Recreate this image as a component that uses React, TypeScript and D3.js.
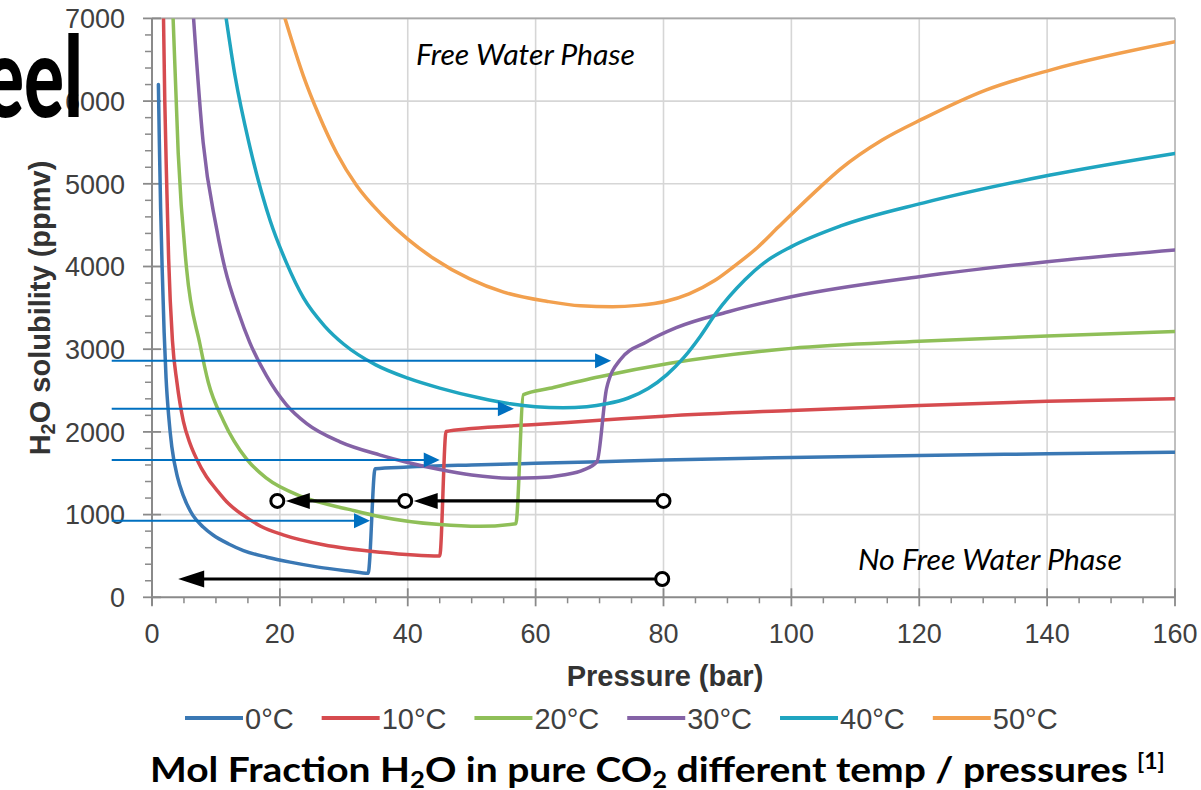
import React from 'react';
import * as d3 from 'd3';

// ---------- data ----------
const xTickValues = [0, 20, 40, 60, 80, 100, 120, 140, 160];
const yTickValues = [0, 1000, 2000, 3000, 4000, 5000, 6000, 7000];
const seriesNames = ['0°C', '10°C', '20°C', '30°C', '40°C', '50°C'];
const seriesColors = ['#3a78b4', '#d64b4f', '#8fbf58', '#8462a6', '#1fa5c0', '#f2a04e'];

// 0°C
const p0 = [1.0, 1.15, 1.35, 1.6, 1.9, 2.2, 2.6, 3.1, 4.0, 4.9, 6.4, 8, 9.6, 12, 14.3, 18, 21.6, 26, 31, 33.8, 34.9, 40, 50, 60, 70, 80, 100, 120, 140, 160];
const v0 = [6200, 5500, 4700, 3950, 3200, 2650, 2200, 1820, 1450, 1230, 990, 850, 750, 645, 565, 485, 425, 365, 315, 290, 1555, 1575, 1600, 1620, 1640, 1660, 1690, 1715, 1735, 1755];
// 10°C
const p10 = [1.8, 2.0, 2.3, 2.6, 3.2, 3.9, 4.9, 6.0, 7.0, 8.5, 10.1, 12, 14.3, 17, 20.5, 26.8, 35.7, 45.0, 46.0, 50, 60, 70, 80, 100, 120, 140, 160];
const v10 = [7000, 6000, 5000, 4100, 3100, 2600, 2130, 1850, 1670, 1460, 1300, 1130, 990, 860, 755, 635, 545, 500, 2005, 2040, 2090, 2140, 2190, 2260, 2320, 2370, 2400];
// 20°C
const p20 = [3.3, 4.1, 5.4, 7.5, 8.8, 11.2, 14.8, 17.9, 23.7, 31, 35.7, 45, 51.3, 56.9, 58.1, 62.2, 70, 81, 100, 120, 140, 160];
const v20 = [7000, 5370, 3980, 3060, 2600, 2130, 1670, 1440, 1210, 1060, 975, 880, 858, 890, 2450, 2527, 2667, 2830, 3010, 3095, 3160, 3215];
// 30°C
const p30 = [6.5, 8.0, 10, 11.4, 13.5, 15.3, 17.9, 21, 24.2, 29.4, 35.7, 40, 45, 50, 56.5, 60, 64.3, 67.5, 69.6, 71.1, 73.2, 77.4, 82, 90, 100, 120, 140, 160];
const v30 = [7000, 5500, 4500, 3980, 3450, 3080, 2680, 2330, 2100, 1880, 1720, 1630, 1545, 1480, 1440, 1445, 1480, 1540, 1640, 2527, 2869, 3090, 3260, 3450, 3634, 3876, 4058, 4200];
// 40°C
const p40 = [11.6, 13, 15.3, 18.5, 21, 23.7, 27, 30, 35, 40, 45, 51.3, 56, 60, 64.3, 68, 71.1, 74.5, 77.6, 80.5, 83.2, 85.8, 88.2, 92.7, 96, 100, 107.7, 120.7, 140.5, 160];
const v40 = [7000, 6300, 5450, 4550, 4050, 3620, 3280, 3060, 2810, 2650, 2530, 2410, 2340, 2305, 2293, 2305, 2340, 2410, 2525, 2690, 2900, 3160, 3434, 3836, 4060, 4240, 4490, 4770, 5106, 5368];
// 50°C
const p50 = [20.8, 23.7, 26, 28.9, 32, 36, 40, 44, 49.7, 55, 61.7, 67, 72, 76, 80.4, 84, 88, 91, 94.7, 98, 101.2, 104.5, 107.7, 114.2, 120.7, 130.4, 140.5, 160];
const v50 = [7000, 6300, 5850, 5370, 4980, 4620, 4330, 4100, 3850, 3690, 3580, 3525, 3514, 3530, 3580, 3670, 3830, 4000, 4230, 4480, 4720, 4960, 5180, 5529, 5791, 6133, 6375, 6717];

const seriesP = [p0, p10, p20, p30, p40, p50];
const seriesV = [v0, v10, v20, v30, v40, v50];

// annotation arrows (blue: pointing right to the step)
const blueArrowStartP = -6.3;
const blueArrowY = [2860, 2280, 1660, 925];
const blueArrowTipP = [71.8, 56.6, 45.0, 34.1];

// black arrows (pressure drop paths)
const blackUpperY = 1165;
const blackUpperCircles = [80, 39.6, 19.6];
const blackLowerY = 221;
const blackLowerStartP = 79.8;
const blackLowerTipP = 4.1;

// ---------- layout ----------
const W = 1201;
const H = 790;
const X0 = 152;
const X1 = 1175;
const Y0 = 597.3;
const Y1 = 18.4;

const x = d3.scaleLinear().domain([0, 160]).range([X0, X1]);
const y = d3.scaleLinear().domain([0, 7000]).range([Y0, Y1]);

const lineGen = d3
  .line<[number, number]>()
  .x((d) => x(d[0]))
  .y((d) => y(d[1]))
  .curve(d3.curveMonotoneX);

const tickFont = "'Liberation Sans', Arial, sans-serif";
const calFont = "Lato, 'Open Sans', sans-serif";

function legendWidth(s: string, fs: number) {
  let w = 0;
  for (const c of s) {
    if (c === '°') w += 0.4;
    else if (c === 'C') w += 0.722;
    else w += 0.556;
  }
  return w * fs;
}

export default function App() {
  const xMinor = d3.range(0, 161, 5).filter((v) => v % 20 !== 0);
  const yMinor = d3.range(0, 7001, 200).filter((v) => v % 1000 !== 0);

  // legend positions
  const legFs = 29;
  const legLine = 58;
  const legGap = 28;
  let lx = 185;
  const legendItems = seriesNames.map((n, i) => {
    const item = { n, i, x: lx };
    lx += legLine + 2 + legendWidth(n, legFs) + legGap;
    return item;
  });

  const r = 6.5;
  const circles = blackUpperCircles.map((p) => x(p));

  return (
    <svg
      width={W}
      height={H}
      style={{ position: 'absolute', left: 0, top: 0, background: '#fff' }}
    >
      <defs>
        <clipPath id="plotClip">
          <rect x={X0} y={Y1} width={X1 - X0} height={Y0 - Y1} />
        </clipPath>
      </defs>
      <rect x={0} y={0} width={W} height={H} fill="#fff" />

      {/* grid */}
      {xTickValues.filter((v) => v > 0).map((v) => (
        <line key={'gx' + v} x1={x(v)} x2={x(v)} y1={Y1} y2={Y0} stroke="#d6d6d6" strokeWidth={1.6} />
      ))}
      {yTickValues.filter((v) => v > 0).map((v) => (
        <line key={'gy' + v} x1={X0} x2={X1} y1={y(v)} y2={y(v)} stroke="#d6d6d6" strokeWidth={1.6} />
      ))}
      {/* frame top/right */}
      <line x1={X0} x2={X1} y1={Y1} y2={Y1} stroke="#a8a8a8" strokeWidth={1.8} />
      <line x1={X1} x2={X1} y1={Y1} y2={Y0} stroke="#b8b8b8" strokeWidth={1.6} />

      {/* axes */}
      <line x1={X0} x2={X1} y1={Y0} y2={Y0} stroke="#8a8a8a" strokeWidth={2} />
      <line x1={X0} x2={X0} y1={Y1} y2={Y0 + 8} stroke="#8a8a8a" strokeWidth={2} />
      {xTickValues.map((v) => (
        <line key={'xt' + v} x1={x(v)} x2={x(v)} y1={Y0 - 9} y2={Y0 + 9} stroke="#8a8a8a" strokeWidth={1.8} />
      ))}
      {xMinor.map((v) => (
        <line key={'xm' + v} x1={x(v)} x2={x(v)} y1={Y0} y2={Y0 + 6} stroke="#8a8a8a" strokeWidth={1.5} />
      ))}
      {yTickValues.map((v) => (
        <line key={'yt' + v} x1={X0 - 9} x2={X0 + 9} y1={y(v)} y2={y(v)} stroke="#8a8a8a" strokeWidth={1.8} />
      ))}
      {yMinor.map((v) => (
        <line key={'ym' + v} x1={X0 - 7} x2={X0} y1={y(v)} y2={y(v)} stroke="#8a8a8a" strokeWidth={1.5} />
      ))}

      {/* tick labels */}
      {xTickValues.map((v) => (
        <text key={'xl' + v} x={x(v)} y={643} textAnchor="middle" fontFamily={tickFont} fontSize={27} fill="#404040">
          {v}
        </text>
      ))}
      {yTickValues.map((v) => (
        <text key={'yl' + v} x={125} y={y(v)} dy="0.36em" textAnchor="end" fontFamily={tickFont} fontSize={27} fill="#404040">
          {v}
        </text>
      ))}

      {/* axis titles */}
      <text x={665} y={686} textAnchor="middle" fontFamily={tickFont} fontSize={29} fontWeight="bold" fill="#333">
        Pressure (bar)
      </text>
      <text
        transform={`translate(50,308) rotate(-90)`}
        textAnchor="middle"
        fontFamily={tickFont}
        fontSize={29}
        fontWeight="bold"
        fill="#333"
      >
        H<tspan fontSize={20} dy={5}>2</tspan>
        <tspan dy={-5}>O solubility (ppmv)</tspan>
      </text>

      {/* series */}
      <g clipPath="url(#plotClip)">
        {seriesP.map((ps, i) => {
          const pts: [number, number][] = ps.map((p, j) => [p, seriesV[i][j]]);
          return (
            <path
              key={'s' + i}
              d={lineGen(pts) || ''}
              fill="none"
              stroke={seriesColors[i]}
              strokeWidth={3.5}
              strokeLinejoin="round"
              strokeLinecap="round"
            />
          );
        })}
      </g>

      {/* blue arrows */}
      {blueArrowY.map((v, i) => {
        const yy = y(v);
        const x0 = x(blueArrowStartP);
        const tip = x(blueArrowTipP[i]);
        const hl = 16;
        const hh = 7.5;
        return (
          <g key={'ba' + i}>
            <line x1={x0} x2={tip - hl + 1} y1={yy} y2={yy} stroke="#0070c0" strokeWidth={2} />
            <polygon points={`${tip},${yy} ${tip - hl},${yy - hh} ${tip - hl},${yy + hh}`} fill="#0070c0" />
          </g>
        );
      })}

      {/* black arrows upper */}
      {(() => {
        const yy = y(blackUpperY);
        const hl = 24;
        const hh = 8;
        const els: any[] = [];
        for (let k = 0; k < circles.length - 1; k++) {
          const from = circles[k] - r;
          const tip = circles[k + 1] + r + 2;
          els.push(
            <g key={'bu' + k}>
              <line x1={from} x2={tip + hl - 1} y1={yy} y2={yy} stroke="#000" strokeWidth={3.2} />
              <polygon points={`${tip},${yy} ${tip + hl},${yy - hh} ${tip + hl},${yy + hh}`} fill="#000" />
            </g>
          );
        }
        circles.forEach((cx, k) =>
          els.push(<circle key={'bc' + k} cx={cx} cy={yy} r={r} fill="#fff" stroke="#000" strokeWidth={3} />)
        );
        return els;
      })()}

      {/* black arrow lower */}
      {(() => {
        const yy = y(blackLowerY);
        const cx = x(blackLowerStartP);
        const tip = x(blackLowerTipP);
        const hl = 26;
        const hh = 8.5;
        return (
          <g>
            <line x1={cx - r} x2={tip + hl - 1} y1={yy} y2={yy} stroke="#000" strokeWidth={3.2} />
            <polygon points={`${tip},${yy} ${tip + hl},${yy - hh} ${tip + hl},${yy + hh}`} fill="#000" />
            <circle cx={cx} cy={yy} r={r} fill="#fff" stroke="#000" strokeWidth={3} />
          </g>
        );
      })()}

      {/* region labels */}
      <text x={416} y={65} fontFamily={calFont} fontStyle="italic" fontSize={28} fill="#000" textLength={219} lengthAdjust="spacingAndGlyphs">
        Free Water Phase
      </text>
      <text x={858} y={570} fontFamily={calFont} fontStyle="italic" fontSize={28} fill="#000" textLength={264} lengthAdjust="spacingAndGlyphs">
        No Free Water Phase
      </text>

      {/* legend */}
      {legendItems.map((it) => (
        <g key={'lg' + it.i}>
          <line x1={it.x} x2={it.x + legLine} y1={718} y2={718} stroke={seriesColors[it.i]} strokeWidth={4} />
          <text x={it.x + legLine + 2} y={728.5} fontFamily={tickFont} fontSize={legFs} fill="#404040">
            {it.n}
          </text>
        </g>
      ))}

      {/* title */}
      <text x={150} y={782} fontFamily={calFont} fontWeight="bold" fontSize={35} fill="#000" textLength={978} lengthAdjust="spacingAndGlyphs">
        Mol Fraction H<tspan fontSize={23} dy={6}>2</tspan>
        <tspan dy={-6}>O in pure CO</tspan>
        <tspan fontSize={23} dy={6}>2</tspan>
        <tspan dy={-6}> different temp / pressures</tspan>
      </text>
      <text x={1137} y={769} fontFamily={calFont} fontWeight="bold" fontSize={23} fill="#000">
        [1]
      </text>

      {/* slide title fragment */}
      <text x={-16} y={117} fontFamily={calFont} fontWeight="900" fontSize={112} fill="#000" textLength={99} lengthAdjust="spacingAndGlyphs">
        eel
      </text>
    </svg>
  );
}
